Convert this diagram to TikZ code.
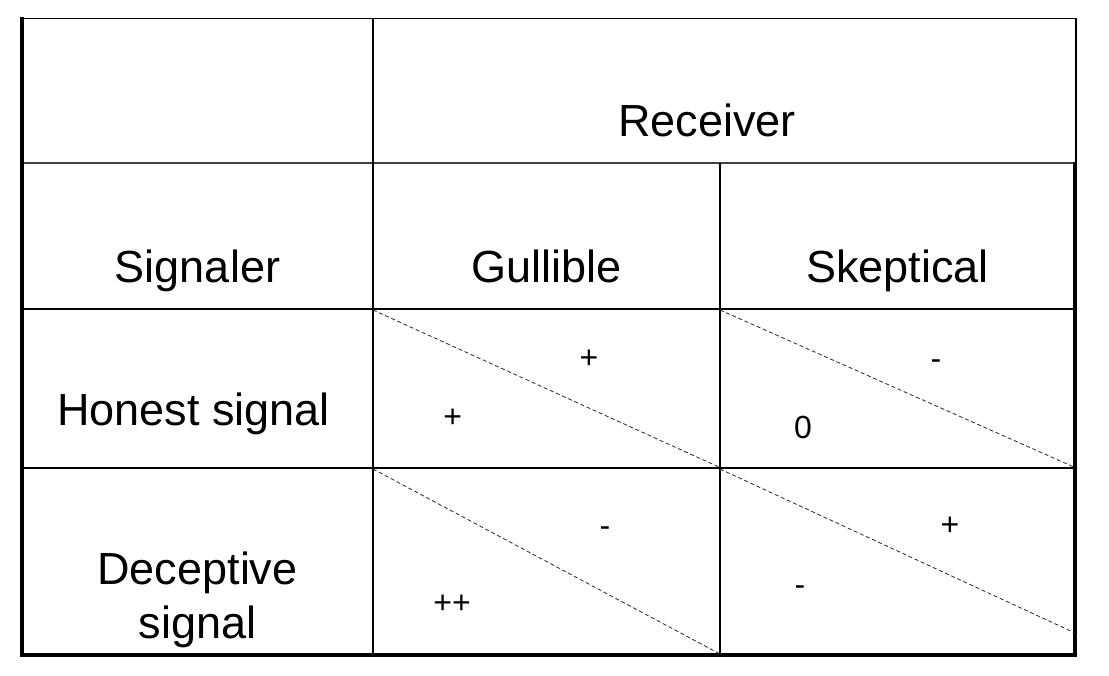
\documentclass[tikz,border=0pt]{standalone}
\usepackage{fontspec}
\setmainfont{Liberation Sans}
\begin{document}
\begin{tikzpicture}[x=1pt,y=-1pt,
  big/.style={font=\fontsize{45}{54}\selectfont, inner sep=0pt, anchor=base, align=center},
  small/.style={font=\fontsize{32}{38}\selectfont, inner sep=0pt, anchor=base},
  gridline/.style={line width=1.3pt, black},
  headline/.style={line width=2pt, black!75},
  border/.style={line width=3.3pt, black, line join=miter},
  diag/.style={line width=0.8pt, black!85, dash pattern=on 4pt off 2.7pt}]
\useasboundingbox (0,0) rectangle (1109,676);
% grid
\draw[gridline] (22,18.5) -- (1076,18.5) -- (1076,163.5);
\draw[headline] (22,163.5) -- (1076,163.5);
\draw[gridline] (22,309) -- (1075,309);
\draw[gridline] (22,468) -- (1075,468);
\draw[gridline] (373,18.5) -- (373,655);
\draw[gridline] (720,163.5) -- (720,655);
\draw[border] (22,17.5) -- (22,655) -- (1075,655) -- (1075,162.5);
% diagonals
\draw[diag] (373,310) -- (720,467.5);
\draw[diag] (720,310) -- (1075,467.5);
\draw[diag] (373,469) -- (720,654);
\draw[diag] (720,469) -- (1075,633);
% headers
\node[big] (recv) at (707,137) {Receiver};
\node[big] (sig) at (197.5,283) {Signaler};
\node[big] (gull) at (546.5,283) {Gullible};
\node[big] (skep) at (897.5,283) {Skeptical};
\node[big] (hon) at (193.5,425) {Honest signal};
\node[big] (dec) at (197.5,638) {Deceptive\\signal};
% payoffs
\node[small] (p1) at (589,368.5) {+};
\node[small] (p2) at (452.7,427.5) {+};
\node[small] (p3) at (936,370) {-};
\node[small] (p4) at (803,438) {0};
\node[small] (p5) at (605,536) {-};
\node[small] (p6) at (452,613) {++};
\node[small] (p7) at (950,535.5) {+};
\node[small] (p8) at (800,595.7) {-};
\end{tikzpicture}
\end{document}
